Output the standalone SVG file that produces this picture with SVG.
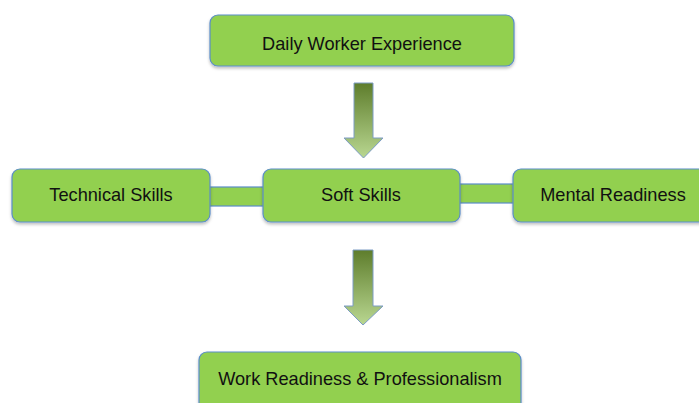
<svg xmlns="http://www.w3.org/2000/svg" width="699" height="403" viewBox="0 0 699 403">
  <defs>
    <linearGradient id="arrowFill" x1="0" y1="0" x2="0" y2="1">
      <stop offset="0" stop-color="#5E7D2C"/>
      <stop offset="1" stop-color="#B9D791"/>
    </linearGradient>
    <filter id="shadow" x="-10%" y="-20%" width="120%" height="150%">
      <feDropShadow dx="0" dy="2" stdDeviation="1.5" flood-color="#000" flood-opacity="0.25"/>
    </filter>
  </defs>
  <style>
    .box { fill: #92D050; stroke: #5B8DC9; stroke-width: 1.2; filter: url(#shadow); }
    .bar { fill: #92D050; stroke: #5B8DC9; stroke-width: 1.2; }
    .arrow { fill: url(#arrowFill); stroke: #7C9CC4; stroke-width: 1; }
    .label { font-family: "Liberation Sans", Arial, sans-serif; font-size: 18.2px; fill: #111; text-anchor: middle; }
  </style>
  <rect width="699" height="403" fill="#fff"/>

  <!-- connectors: bars between the skill boxes and downward block arrows -->
  <g id="connectors">
    <rect class="bar" x="208" y="187" width="57" height="19"/>
    <rect class="bar" x="458" y="184" width="57" height="19"/>
    <path class="arrow" d="M354,83 H373 V138 H383 L363.5,158 L344,138 H354 Z"/>
    <path class="arrow" d="M353,250 H373 V306 H383 L363,325 L344,306 H353 Z"/>
  </g>

  <g id="daily-worker-experience">
    <rect class="box" x="210" y="15" width="304" height="51" rx="8"/>
    <text class="label" x="362" y="50">Daily Worker Experience</text>
  </g>

  <g id="technical-skills">
    <rect class="box" x="12" y="169" width="198" height="53" rx="8"/>
    <text class="label" x="111" y="201">Technical Skills</text>
  </g>

  <g id="soft-skills">
    <rect class="box" x="263" y="169" width="197" height="53" rx="8"/>
    <text class="label" x="361" y="201">Soft Skills</text>
  </g>

  <g id="mental-readiness">
    <rect class="box" x="513" y="169" width="200" height="53" rx="8"/>
    <text class="label" x="613" y="201">Mental Readiness</text>
  </g>

  <g id="work-readiness">
    <rect class="box" x="199" y="352" width="322" height="60" rx="8"/>
    <text class="label" x="360" y="385">Work Readiness &amp; Professionalism</text>
  </g>
</svg>
